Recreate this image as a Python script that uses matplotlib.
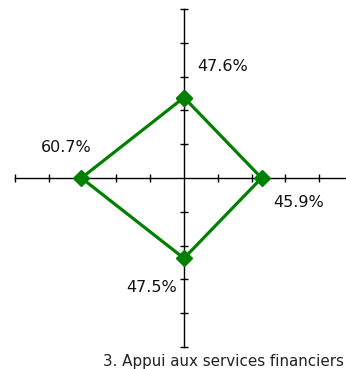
import numpy as np
import matplotlib.pyplot as plt

# values per axis, clockwise from the top
axes_names = ['top', 'right', 'bottom', 'left']
values = [47.6, 45.9, 47.5, 60.7]
labels = ['47.6%', '45.9%', '47.5%', '60.7%']
angles_deg = [90, 0, 270, 180]
tick_values = [-100, -80, -60, -40, -20, 20, 40, 60, 80, 100]
caption = '3. Appui aux services financiers'

green = '#008000'

# label offsets from each point, in points
label_offsets = [(28, 22), (27, -18), (-23, -21), (-11, 22)]

fig = plt.figure(figsize=(3.46, 3.69), dpi=100)
ax = fig.add_axes([0, 0, 1, 1])
ax.set_xlim(-108.9, 95.9)
ax.set_ylim(-113.0, 105.3)
ax.axis('off')

# the cross of axes with tick marks
ax.plot([-100, 100], [0, 0], color='black', lw=1)
ax.plot([0, 0], [-100, 100], color='black', lw=1)
ax.plot(tick_values, np.zeros(len(tick_values)), ls='none', marker='|',
        markersize=6, markeredgewidth=1, color='black')
ax.plot(np.zeros(len(tick_values)), tick_values, ls='none', marker='_',
        markersize=6, markeredgewidth=1, color='black')

theta = np.radians(angles_deg)
xs = np.array(values) * np.cos(theta)
ys = np.array(values) * np.sin(theta)
ax.plot(np.append(xs, xs[0]), np.append(ys, ys[0]), color=green, lw=2.3,
        marker='D', markersize=8, markerfacecolor=green, markeredgecolor=green,
        solid_joinstyle='miter')

for x, y, lab, off in zip(xs, ys, labels, label_offsets):
    ax.annotate(lab, (x, y), xytext=off, textcoords='offset points',
                ha='center', va='center', fontsize=11.5,
                family='DejaVu Sans', color='#111111')

fig.text(0.994, 0.02, caption, ha='right', va='center', fontsize=10.9,
         family='DejaVu Sans', color='#222222')

fig.savefig('out.png', dpi=100)
